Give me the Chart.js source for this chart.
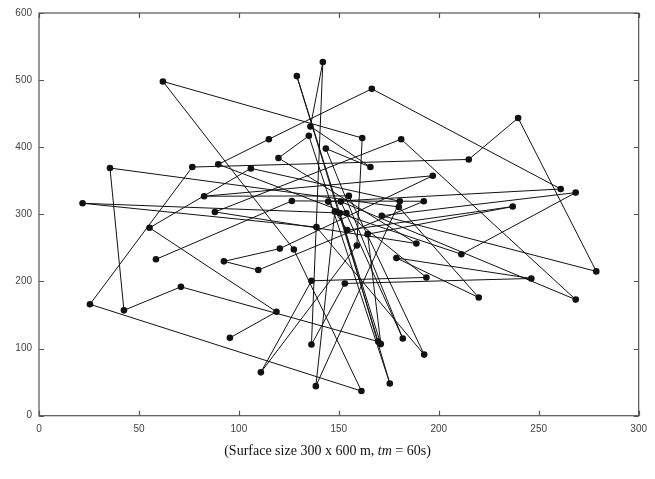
<!DOCTYPE html>
<html>
<head>
<meta charset="utf-8">
<script src="https://cdn.jsdelivr.net/npm/chart.js@4.4.1/dist/chart.umd.min.js"></script>
<style>
  html, body { margin: 0; padding: 0; background: #fff; }
  #wrap { position: relative; width: 655px; height: 479px; }
  #trace { position: absolute; left: 0; top: 0; }
  #caption {
    position: absolute; left: 0; width: 655px; top: 443px;
    text-align: center; font-family: 'Liberation Serif', 'Times New Roman', serif;
    font-size: 14px; color: #111;
  }
</style>
</head>
<body>
<div id="wrap">
  <canvas id="trace" width="655" height="445"></canvas>
  <div id="caption">(Surface size 300 x 600 m, <i>tm</i> = 60s)</div>
</div>
<script>
// waypoint trace, in visiting order (metres)
const wayX = [58.5, 126.5, 192.5, 109.7, 92.5, 120.5, 197, 82.6, 155, 192.7,
              138.8, 21.8, 150.5, 175.5, 135, 119.8, 188.8, 88, 181.2, 268.5,
              151, 182, 143.5, 165.8, 135.8, 142, 136.3, 153, 246.3, 178.8,
              220, 180, 35.5, 42.5, 71, 169.7, 129, 171, 164.4, 237,
              154.2, 144.7, 261, 166.5, 115, 89.7, 153.8, 193.8, 136.3, 111,
              159, 161.7, 62, 127.5, 161.3, 25.5, 76.7, 215, 239.7, 278.8,
              171.5, 268.5, 211.3, 148, 138.5, 180.5, 106, 55.3, 118.8, 95.5];
const wayY = [233, 320, 319.5, 217, 230, 249, 357.5, 327, 327.5, 91,
              281, 316.5, 302, 48, 417, 384, 256.5, 303.6, 412, 173,
              319, 115, 398, 370.5, 431, 527, 106, 197, 204.5, 235,
              176, 311, 369, 157, 192, 110.5, 506, 106.7, 270.5, 311.6,
              276.5, 319, 337.8, 487, 412, 374.5, 302, 206, 201, 64.6,
              253.5, 413.7, 498, 247.6, 36.8, 166, 370.5, 381.8, 443.5, 215,
              298, 332.4, 240.6, 304, 44, 319.5, 368.5, 280, 154.8, 116];

const xTicks = [0, 50, 100, 150, 200, 250, 300];
const yTicks = [0, 100, 200, 300, 400, 500, 600];

const FRAME = '#555';
const INK = '#111';
const TICK_FONT = { family: 'Liberation Sans, Arial, sans-serif', size: 10 };

// box frame with inward tick marks on all four sides
const framePlugin = {
  id: 'frame',
  afterDraw(chart) {
    const { ctx: c, chartArea, scales } = chart;
    const { left, right, top, bottom } = chartArea;
    c.save();
    c.strokeStyle = FRAME;
    c.lineWidth = 1.2;
    c.strokeRect(left, top, right - left, bottom - top);
    c.beginPath();
    xTicks.forEach(v => {
      const px = Math.round(scales.x.getPixelForValue(v)) + 0.5;
      c.moveTo(px, bottom); c.lineTo(px, bottom - 5);
      c.moveTo(px, top);    c.lineTo(px, top + 5);
    });
    yTicks.forEach(v => {
      const py = Math.round(scales.y.getPixelForValue(v)) + 0.5;
      c.moveTo(left, py);  c.lineTo(left + 5, py);
      c.moveTo(right, py); c.lineTo(right - 5, py);
    });
    c.stroke();
    c.restore();
  }
};

new Chart(document.getElementById('trace'), {
  type: 'scatter',
  data: {
    datasets: [{
      data: wayX.map((x, i) => ({ x, y: wayY[i] })),
      showLine: true,
      tension: 0,
      borderColor: INK,
      borderWidth: 1,
      backgroundColor: INK,
      pointRadius: 3.3,
      pointBorderWidth: 0,
      pointBackgroundColor: INK,
    }]
  },
  plugins: [framePlugin],
  options: {
    responsive: false,
    animation: false,
    layout: { padding: { left: 0, right: 16, top: 12, bottom: 0 } },
    plugins: { legend: { display: false }, tooltip: { enabled: false } },
    scales: {
      x: {
        type: 'linear', min: 0, max: 300,
        afterBuildTicks: s => { s.ticks = xTicks.map(v => ({ value: v })); },
        afterFit: s => { s.height = 29.3; },
        grid: { display: false, drawTicks: false },
        border: { display: false },
        ticks: { padding: 8, color: '#444', font: TICK_FONT }
      },
      y: {
        type: 'linear', min: 0, max: 600,
        afterBuildTicks: s => { s.ticks = yTicks.map(v => ({ value: v })); },
        afterFit: s => { s.width = 39; },
        grid: { display: false, drawTicks: false },
        border: { display: false },
        ticks: { padding: 7, color: '#444', font: TICK_FONT }
      }
    }
  }
});
</script>
</body>
</html>
